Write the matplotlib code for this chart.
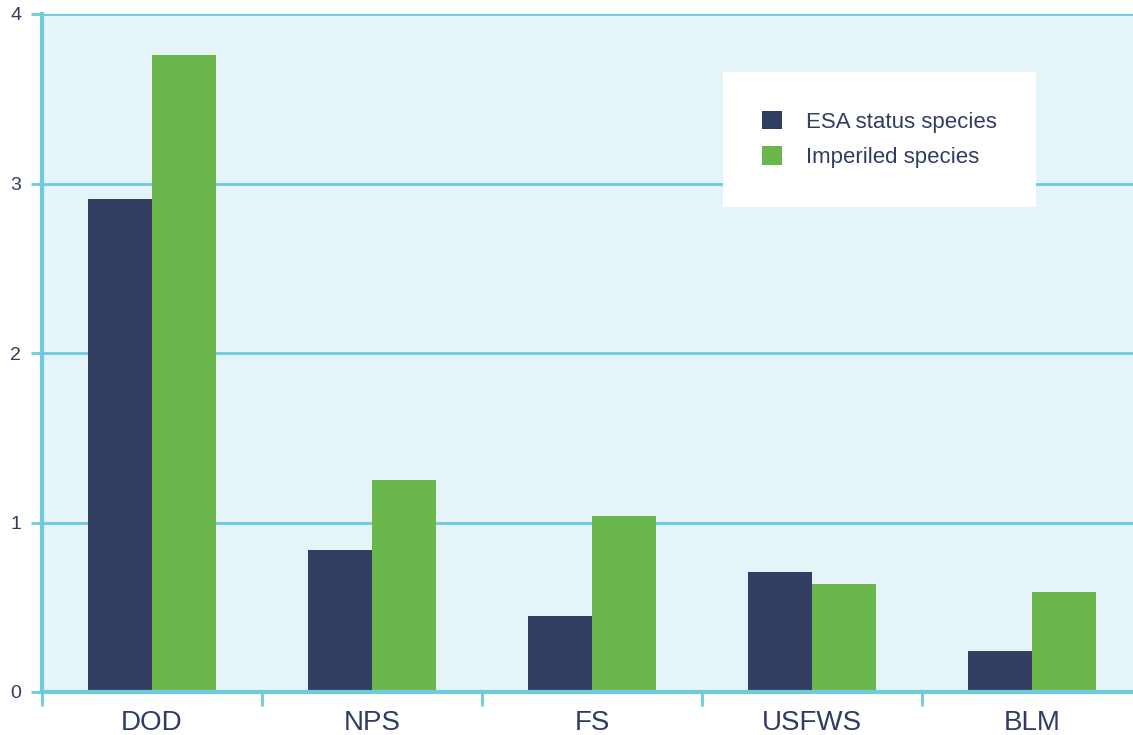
import matplotlib
matplotlib.use("Agg")
import matplotlib.pyplot as plt
import numpy as np
from matplotlib.patches import Patch

categories = ["DOD", "NPS", "FS", "USFWS", "BLM"]
esa_status = [2.91, 0.84, 0.45, 0.71, 0.24]
imperiled = [3.76, 1.25, 1.04, 0.64, 0.59]
y_ticks = [0, 1, 2, 3, 4]
series_names = ["ESA status species", "Imperiled species"]

navy = "#323F63"
green = "#6BB74C"
grid_c = "#6DCBDB"
bg = "#E5F4F8"
txt = "#2F3D62"

plt.rcParams['font.family'] = ['Liberation Sans', 'DejaVu Sans']

fig = plt.figure(figsize=(11.33, 7.35), dpi=100)
ax = fig.add_axes([42/1133, 1-692/735, 1100/1133, (692-14)/735])
ax.set_facecolor(bg)

x = np.arange(len(categories))
w = 0.29
ax.bar(x - w/2, esa_status, w, color=navy, zorder=3)
ax.bar(x + w/2, imperiled, w, color=green, zorder=3)

ax.set_xlim(-0.5, len(categories) - 0.5)
ax.set_ylim(0, 4)
ax.set_yticks(y_ticks)
ax.set_yticklabels([str(t) for t in y_ticks], fontsize=14, color=txt)
ax.yaxis.grid(True, color=grid_c, linewidth=2, zorder=1)
ax.tick_params(axis='y', length=8, width=2, color=grid_c, pad=7)

ax.set_xticks(x)
ax.set_xticklabels(categories, fontsize=20, color=txt)
ax.tick_params(axis='x', which='major', length=0, pad=13)
ax.set_xticks(np.arange(len(categories)) - 0.5, minor=True)
ax.tick_params(axis='x', which='minor', length=10, width=2, color=grid_c)

for s in ['top', 'right']:
    ax.spines[s].set_visible(False)
for s in ['left', 'bottom']:
    ax.spines[s].set_color(grid_c)
    ax.spines[s].set_linewidth(3)
    ax.spines[s].set_zorder(4)

handles = [Patch(facecolor=navy), Patch(facecolor=green)]
leg = ax.legend(handles, series_names, loc='upper left',
                bbox_to_anchor=((723-42)/1100, 1-(72-14)/678),
                frameon=True, fancybox=False, framealpha=1, edgecolor='white',
                facecolor='white', fontsize=16, labelcolor=txt,
                handlelength=0.9, handleheight=0.9, handletextpad=1.1,
                borderpad=1.75, labelspacing=0.6, borderaxespad=0)
leg.get_frame().set_linewidth(0)
leg.set_zorder(5)

fig.savefig("out.png", dpi=100)
